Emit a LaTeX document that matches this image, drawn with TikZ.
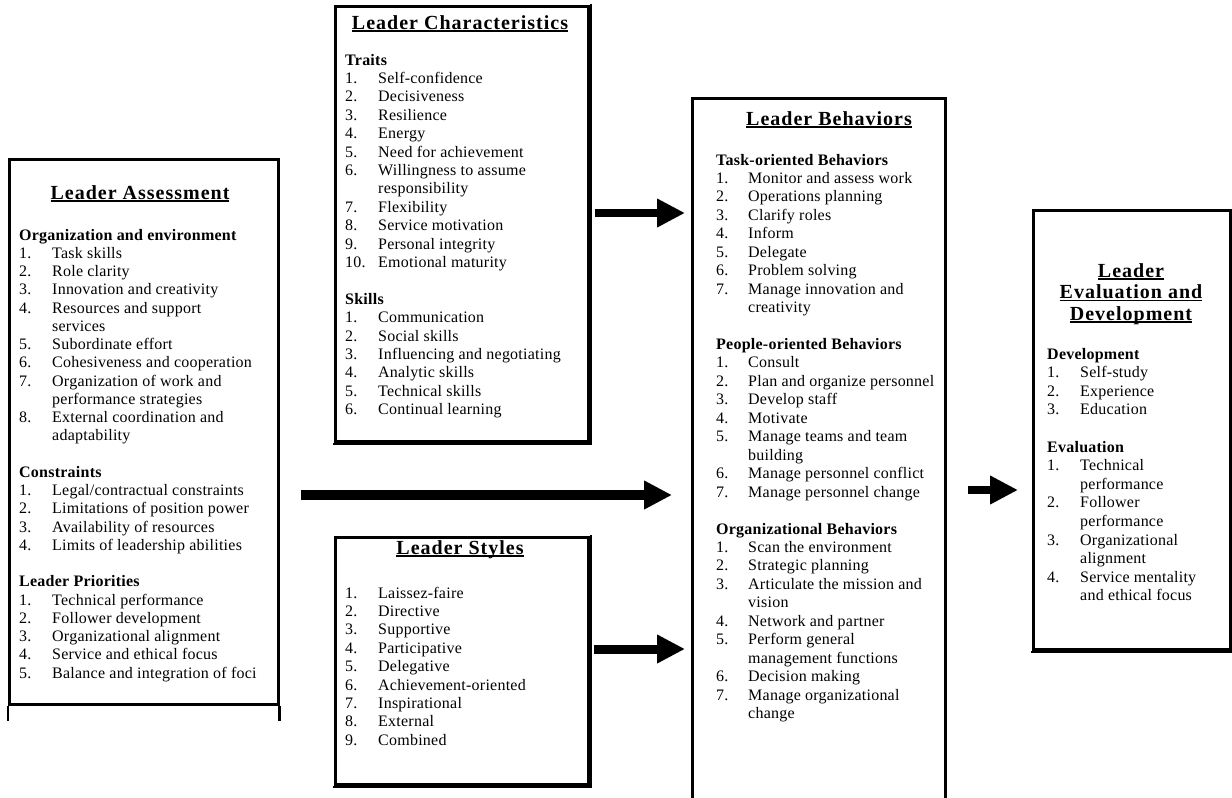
\documentclass[tikz,border=0pt]{standalone}
\usepackage{fontspec}
\setmainfont{Liberation Serif}[LetterSpace=1.5]
\newfontfamily\ttlfont{Liberation Serif}[LetterSpace=5]
\usetikzlibrary{arrows.meta}
\newcommand\ulx[1]{\setbox0=\hbox{#1}\rlap{\rule[-2.8pt]{\wd0}{1.6pt}}\box0}
\newcommand\bodyfont[1]{\fontsize{16}{#1}\selectfont}
\newcommand\hd[1]{\multicolumn{2}{@{}l@{}}{\textbf{#1}}}
\tikzset{
  boxsty/.style={draw, line width=2.5pt, inner sep=0pt, anchor=north west},
  shadowline/.style={line width=2pt},
  ttl/.style={font={\ttlfont\bfseries\fontsize{20}{21.5}\selectfont}, anchor=base, inner sep=0pt},
  txt/.style={anchor=base west, inner sep=0pt},
  bigarr/.style={line width=#1, -{Triangle[length=28pt,width=27pt]}},
}
\newcommand\shadowof[1]{\draw[shadowline] ([shift={(1.5,-1)}]#1.north east) -- ([shift={(1.5,1.5)}]#1.south east) -- ([shift={(-1,1.5)}]#1.south west);}
\begin{document}
\begin{tikzpicture}[x=1pt,y=-1pt]
\useasboundingbox (0,0) rectangle (1232,798);
\fill[white] (0,0) rectangle (1232,798);
\clip (0,0) rectangle (1232,798);

% boxes
\node[boxsty, minimum width=269pt, minimum height=545pt] (ass) at (8,158) {};
\draw[line width=2.5pt] (ass.south west) -- ++(0,15);
\draw[line width=2.5pt] (ass.south east) -- ++(0,15);
\node[boxsty, minimum width=253pt, minimum height=435pt] (chr) at (334,5) {};
\shadowof{chr}
\node[boxsty, minimum width=253pt, minimum height=247pt] (sty) at (334,536) {};
\shadowof{sty}
\node[boxsty, minimum width=253pt, minimum height=710pt] (beh) at (691,97) {};
\node[boxsty, minimum width=197pt, minimum height=439pt] (evl) at (1032,209) {};
\shadowof{evl}

% titles
\node[ttl] (assH) at (140,199) {\ulx{Leader Assessment}};
\node[ttl] (chrH) at (460,29) {\ulx{Leader Characteristics}};
\node[ttl] (styH) at (460,554) {\ulx{Leader Styles}};
\node[ttl] (behH) at (829,125) {\ulx{Leader Behaviors}};
\node[ttl] (evlH1) at (1131,277) {\ulx{Leader}};
\node[ttl] (evlH2) at (1131,298.5) {\ulx{Evaluation and}};
\node[ttl] (evlH3) at (1131,320) {\ulx{Development}};

% contents
\node[txt, font={\bodyfont{18.25}}] (assT) at (19,240) {\begin{tabular}[t]{@{}p{33pt}@{}l@{}}
\hd{Organization and environment}\\
1. & Task skills\\
2. & Role clarity\\
3. & Innovation and creativity\\
4. & Resources and support\\
 & services\\
5. & Subordinate effort\\
6. & Cohesiveness and cooperation\\
7. & Organization of work and\\
 & performance strategies\\
8. & External coordination and\\
 & adaptability\\
\\
\hd{Constraints}\\
1. & Legal/contractual constraints\\
2. & Limitations of position power\\
3. & Availability of resources\\
4. & Limits of leadership abilities\\
\\
\hd{Leader Priorities}\\
1. & Technical performance\\
2. & Follower development\\
3. & Organizational alignment\\
4. & Service and ethical focus\\
5. & Balance and integration of foci
\end{tabular}};

\node[txt, font={\bodyfont{18.4}}] (chrT) at (345,65) {\begin{tabular}[t]{@{}p{33pt}@{}l@{}}
\hd{Traits}\\
1. & Self-confidence\\
2. & Decisiveness\\
3. & Resilience\\
4. & Energy\\
5. & Need for achievement\\
6. & Willingness to assume\\
 & responsibility\\
7. & Flexibility\\
8. & Service motivation\\
9. & Personal integrity\\
10. & Emotional maturity\\
\\
\hd{Skills}\\
1. & Communication\\
2. & Social skills\\
3. & Influencing and negotiating\\
4. & Analytic skills\\
5. & Technical skills\\
6. & Continual learning
\end{tabular}};

\node[txt, font={\bodyfont{18.4}}] (styT) at (345,598) {\begin{tabular}[t]{@{}p{33pt}@{}l@{}}
1. & Laissez-faire\\
2. & Directive\\
3. & Supportive\\
4. & Participative\\
5. & Delegative\\
6. & Achievement-oriented\\
7. & Inspirational\\
8. & External\\
9. & Combined
\end{tabular}};

\node[txt, font={\bodyfont{18.45}}] (behT) at (716,165) {\begin{tabular}[t]{@{}p{32pt}@{}l@{}}
\hd{Task-oriented Behaviors}\\
1. & Monitor and assess work\\
2. & Operations planning\\
3. & Clarify roles\\
4. & Inform\\
5. & Delegate\\
6. & Problem solving\\
7. & Manage innovation and\\
 & creativity\\
\\
\hd{People-oriented Behaviors}\\
1. & Consult\\
2. & Plan and organize personnel\\
3. & Develop staff\\
4. & Motivate\\
5. & Manage teams and team\\
 & building\\
6. & Manage personnel conflict\\
7. & Manage personnel change\\
\\
\hd{Organizational Behaviors}\\
1. & Scan the environment\\
2. & Strategic planning\\
3. & Articulate the mission and\\
 & vision\\
4. & Network and partner\\
5. & Perform general\\
 & management functions\\
6. & Decision making\\
7. & Manage organizational\\
 & change
\end{tabular}};

\node[txt, font={\bodyfont{18.6}}] (evlT) at (1047,359) {\begin{tabular}[t]{@{}p{33pt}@{}l@{}}
\hd{Development}\\
1. & Self-study\\
2. & Experience\\
3. & Education\\
\\
\hd{Evaluation}\\
1. & Technical\\
 & performance\\
2. & Follower\\
 & performance\\
3. & Organizational\\
 & alignment\\
4. & Service mentality\\
 & and ethical focus
\end{tabular}};

% arrows
\coordinate (y1) at (0,213);
\coordinate (y2) at (0,495);
\coordinate (y3) at (0,649);
\coordinate (y4) at (0,490);
\draw[bigarr=8pt, shorten <=5pt, shorten >=6pt] (chr.east |- y1) -- (beh.west |- y1);
\draw[bigarr=9.5pt, shorten <=21pt, shorten >=19pt] (ass.east |- y2) -- (beh.west |- y2);
\draw[bigarr=9pt, shorten <=4pt, shorten >=6pt] (sty.east |- y3) -- (beh.west |- y3);
\draw[bigarr=7.5pt, shorten <=21pt, shorten >=14pt] (beh.east |- y4) -- (evl.west |- y4);
\end{tikzpicture}
\end{document}
